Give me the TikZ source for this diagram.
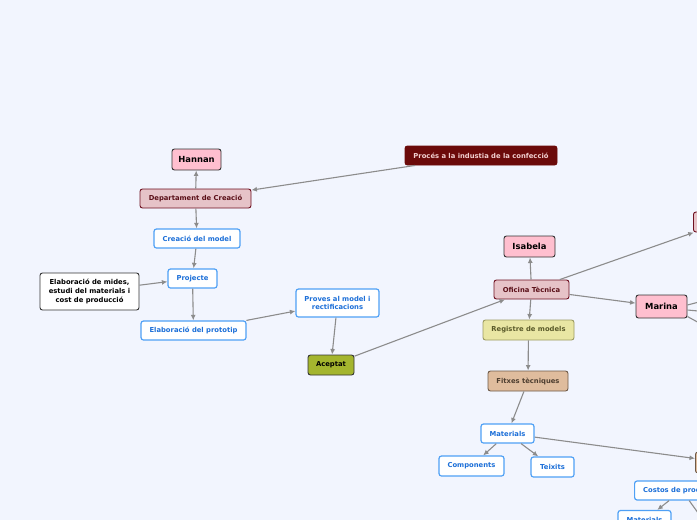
\documentclass[tikz,border=0pt]{standalone}
\usepackage{fontspec}
\setmainfont{DejaVu Sans}
\usetikzlibrary{arrows.meta}
\definecolor{bgc}{HTML}{F2F5FE}
\definecolor{pinkf}{HTML}{FFBFCF}
\definecolor{mauvef}{HTML}{E6C3C8}
\definecolor{mauved}{HTML}{6E1020}
\definecolor{mauvet}{HTML}{5A0F18}
\definecolor{darkred}{HTML}{6B0A0A}
\definecolor{darkredt}{HTML}{F2D0D0}
\definecolor{blueb}{HTML}{4FA0F5}
\definecolor{bluet}{HTML}{1C6FD8}
\definecolor{olivef}{HTML}{A4B52E}
\definecolor{yelf}{HTML}{E9E6A3}
\definecolor{yelb}{HTML}{9B9A60}
\definecolor{yelt}{HTML}{5A5A2A}
\definecolor{tanf}{HTML}{DFBC9D}
\definecolor{tanb}{HTML}{6E5A48}
\definecolor{tant}{HTML}{4E3E30}
\definecolor{arrc}{HTML}{8C8C8C}
\tikzset{
  base/.style={rounded corners=2.5pt, line width=0.9pt, inner sep=0pt, align=center,
    font=\bfseries\fontsize{6.8}{8.6}\selectfont},
  pinkbox/.style={base, fill=pinkf, draw=black!80, font=\bfseries\fontsize{8.4}{10}\selectfont},
  mauvebox/.style={base, fill=mauvef, draw=mauved, text=mauvet},
  redbox/.style={base, fill=darkred, draw=darkred, text=darkredt},
  bluebox/.style={base, fill=white, draw=blueb, line width=1.2pt, text=bluet},
  whitebox/.style={base, fill=white, draw=black!80, text=black},
  olivebox/.style={base, fill=olivef, draw=black!80, text=black},
  yelbox/.style={base, fill=yelf, draw=yelb, text=yelt},
  tanbox/.style={base, fill=tanf, draw=tanb, text=tant},
  conn/.style={draw=arrc, line width=1.1pt, -{Latex[length=5.5pt,width=5pt]}},
  plain/.style={draw=arrc, line width=1.1pt},
}
\begin{document}
\begin{tikzpicture}[x=1pt,y=-1pt]
\fill[bgc] (0,0) rectangle (697,520);
\useasboundingbox (0,0) rectangle (697,520);
\clip (0,0) rectangle (697,520);
% nodes
\node[pinkbox, minimum width=49pt, minimum height=21pt] (hannan) at (196.5,159.5) {Hannan};
\node[mauvebox, minimum width=111pt, minimum height=19pt] (dept) at (195.5,198.5) {Departament de Creació};
\node[redbox, minimum width=152pt, minimum height=19pt] (proces) at (481,155.5) {Procés a la industia de la confecció};
\node[bluebox, minimum width=86pt, minimum height=19pt] (creacio) at (197,238.5) {Creació del model};
\node[bluebox, minimum width=49pt, minimum height=19pt] (proj) at (192.5,278.5) {Projecte};
\node[whitebox, minimum width=99pt, minimum height=37pt] (mides) at (89.5,291.5) {Elaboració de mides,\\estudi del materials i\\cost de producció};
\node[bluebox, minimum width=105pt, minimum height=19pt] (proto) at (193.5,330.5) {Elaboració del prototip};
\node[bluebox, minimum width=83pt, minimum height=28pt] (proves) at (337.5,303) {Proves al model i\\rectificacions};
\node[olivebox, minimum width=46pt, minimum height=20pt] (acep) at (331,365) {Aceptat};
\node[pinkbox, minimum width=51pt, minimum height=21pt] (isab) at (529.5,246.5) {Isabela};
\node[mauvebox, minimum width=75pt, minimum height=19pt] (ofic) at (531.5,289.5) {Oficina Tècnica};
\node[yelbox, minimum width=91pt, minimum height=20pt] (regis) at (528.5,330) {Registre de models};
\node[tanbox, minimum width=80pt, minimum height=20pt] (fitx) at (528,381) {Fitxes tècniques};
\node[bluebox, minimum width=53pt, minimum height=19pt] (mat) at (507.5,433.5) {Materials};
\node[bluebox, minimum width=65pt, minimum height=20pt] (comp) at (471.5,466) {Components};
\node[bluebox, minimum width=43pt, minimum height=20pt] (teix) at (552.5,467) {Teixits};
\node[pinkbox, minimum width=51pt, minimum height=23pt] (marina) at (661.5,306.5) {Marina};
\node[mauvebox, minimum width=60pt, minimum height=20pt, anchor=west] (rbox) at (693,222) {};
\node[tanbox, minimum width=60pt, minimum height=21pt, anchor=west] (tbox) at (695,462.5) {};
\node[bluebox, minimum height=19pt, inner xsep=8.5pt, anchor=west] (costos) at (634,490.5) {Costos de producció};
\node[bluebox, minimum width=53pt, minimum height=19pt] (mat2) at (644.5,520) {Materials};
\coordinate (m1) at (730,294);
\coordinate (m2) at (730,314);
\coordinate (m3) at (730,340);
\coordinate (c1) at (722,546);
% connectors
\draw[conn] (dept) -- (hannan);
\draw[conn] (proces) -- (dept);
\draw[conn] (dept) -- (creacio);
\draw[conn] (creacio) -- (proj);
\draw[conn] (mides) -- (proj);
\draw[conn] (proj) -- (proto);
\draw[conn] (proto) -- (proves);
\draw[conn] (proves) -- (acep);
\draw[conn] (acep) -- (ofic);
\draw[conn] (ofic) -- (isab);
\draw[conn] (ofic) -- (rbox);
\draw[conn] (ofic) -- (marina);
\draw[conn] (ofic) -- (regis);
\draw[conn] (regis) -- (fitx);
\draw[conn] (fitx) -- (mat);
\draw[conn] (mat) -- (comp);
\draw[conn] (mat) -- (teix);
\draw[conn] (mat) -- (tbox);
\draw[conn] (costos) -- (mat2);
\draw[plain] ([yshift=1.5pt]marina.east) -- (m1);
\draw[plain] ([yshift=-3.5pt]marina.east) -- (m2);
\draw[plain] ([yshift=-10pt]marina.east) -- (m3);
\draw[plain] (costos) -- (c1);
\end{tikzpicture}
\end{document}
